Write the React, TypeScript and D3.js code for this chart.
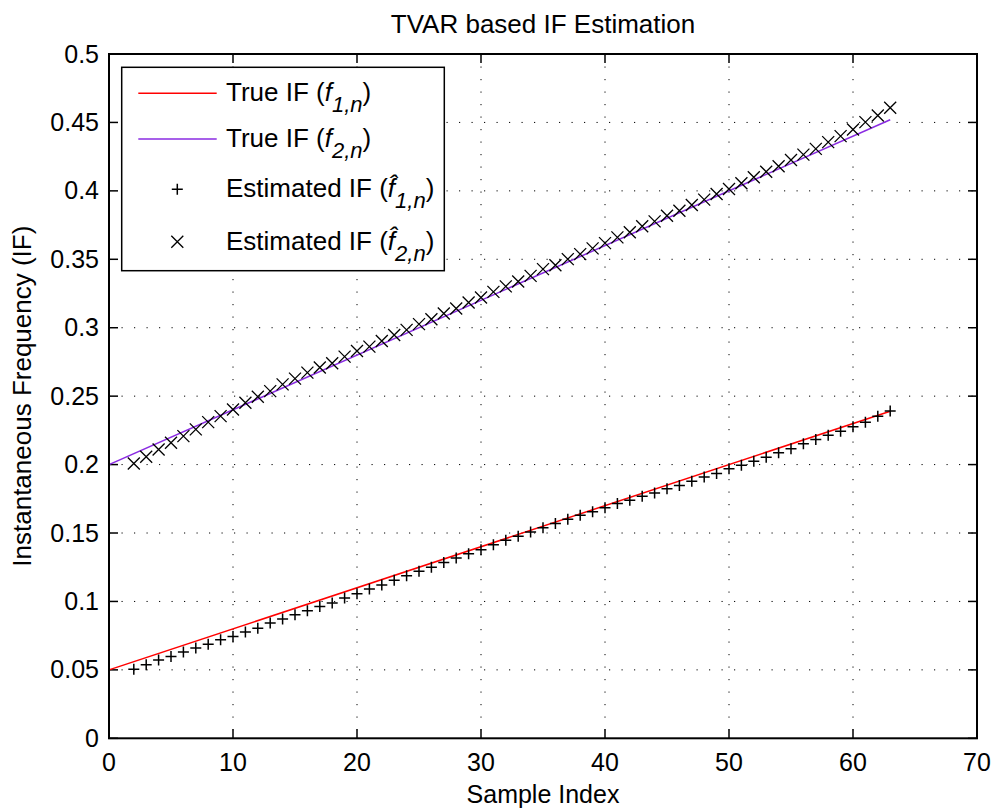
import React from "react";
import * as d3 from "d3";

const sampleIdx = [2,3,4,5,6,7,8,9,10,11,12,13,14,15,16,17,18,19,20,21,22,23,24,25,26,27,28,29,30,31,32,33,34,35,36,37,38,39,40,41,42,43,44,45,46,47,48,49,50,51,52,53,54,55,56,57,58,59,60,61,62,63];
const estF1 = [0.0505,0.0537,0.0573,0.0597,0.063,0.0659,0.0688,0.072,0.0744,0.0776,0.0805,0.0842,0.0871,0.0903,0.0932,0.0963,0.0988,0.1025,0.1056,0.109,0.112,0.1154,0.1188,0.122,0.1249,0.1285,0.1318,0.1349,0.1378,0.1415,0.1447,0.1476,0.1508,0.1538,0.157,0.16,0.163,0.1655,0.1684,0.1715,0.1739,0.1769,0.1793,0.1823,0.1847,0.1878,0.191,0.1935,0.1969,0.1996,0.2025,0.2054,0.2086,0.2116,0.2152,0.2184,0.2215,0.2244,0.2277,0.231,0.2354,0.2391];
const estF2 = [0.2008,0.2057,0.211,0.216,0.2208,0.2257,0.231,0.2354,0.2403,0.2452,0.2496,0.2537,0.2586,0.2628,0.2672,0.2709,0.274,0.2789,0.283,0.2862,0.2903,0.2947,0.2984,0.3026,0.3062,0.3104,0.314,0.3184,0.3221,0.3262,0.3302,0.3338,0.3379,0.3428,0.3457,0.3501,0.3538,0.358,0.3618,0.366,0.3697,0.3741,0.3777,0.3818,0.3855,0.3897,0.3936,0.3977,0.4014,0.4056,0.41,0.414,0.418,0.4226,0.4265,0.4307,0.4356,0.44,0.4448,0.4502,0.4551,0.4607];
const lineIdx = [0, 63];
const trueF1 = [0.05, 0.239];
const trueF2 = [0.2, 0.452];
const xTicks = [0,10,20,30,40,50,60,70];
const yTicks = [0,0.05,0.1,0.15,0.2,0.25,0.3,0.35,0.4,0.45,0.5];
const yTickLabels = ["0","0.05","0.1","0.15","0.2","0.25","0.3","0.35","0.4","0.45","0.5"];

const W = 994, H = 810;
const L = 109, R = 977, T = 54, B = 738.3;
const FONT = "'Liberation Sans', Arial, Helvetica, sans-serif";
const RED = "#ff0000";
const PURPLE = "#8a2be2";

export default function App() {
  const x = d3.scaleLinear().domain([0, 70]).range([L, R]);
  const y = d3.scaleLinear().domain([0, 0.5]).range([B, T]);
  const line = d3.line<[number, number]>().x(d => x(d[0])).y(d => y(d[1]));
  const l1 = line(lineIdx.map((v, i) => [v, trueF1[i]] as [number, number]))!;
  const l2 = line(lineIdx.map((v, i) => [v, trueF2[i]] as [number, number]))!;
  const tick = 9;
  const plus = (cx: number, cy: number, k: string) => (
    <path key={k} d={`M${cx - 5.5},${cy}H${cx + 5.5}M${cx},${cy - 5.5}V${cy + 5.5}`} stroke="#000" strokeWidth={1.5} fill="none" />
  );
  const cross = (cx: number, cy: number, k: string) => (
    <path key={k} d={`M${cx - 6},${cy - 6}L${cx + 6},${cy + 6}M${cx - 6},${cy + 6}L${cx + 6},${cy - 6}`} stroke="#000" strokeWidth={1.3} fill="none" />
  );
  const LG = { x0: 121.7, y0: 67.3, x1: 444.3, y1: 270.7 };
  const rows = [93.3, 139, 189.3, 241.7];
  const tx = 226;
  const fs = 25;
  const lfs = 26;
  const sub = 22;
  return (
    <svg width={W} height={H} style={{ position: "absolute", left: 0, top: 0, background: "#fff" }} fontFamily={FONT}>
      <rect x={0} y={0} width={W} height={H} fill="#fff" />
      {xTicks.slice(1, -1).map(t => (
        <line key={"gx" + t} x1={x(t)} x2={x(t)} y1={T} y2={B} stroke="#000" strokeWidth={1} strokeDasharray="1.2 11.3" />
      ))}
      {yTicks.slice(1, -1).map(t => (
        <line key={"gy" + t} x1={L} x2={R} y1={y(t)} y2={y(t)} stroke="#000" strokeWidth={1} strokeDasharray="1.2 11.3" />
      ))}
      {xTicks.map(t => (
        <g key={"tx" + t}>
          <line x1={x(t)} x2={x(t)} y1={B} y2={B - tick} stroke="#000" strokeWidth={1.5} />
          <line x1={x(t)} x2={x(t)} y1={T} y2={T + tick} stroke="#000" strokeWidth={1.5} />
          <text x={x(t)} y={771} textAnchor="middle" fontSize={fs}>{t}</text>
        </g>
      ))}
      {yTicks.map((t, i) => (
        <g key={"ty" + t}>
          <line x1={L} x2={L + tick} y1={y(t)} y2={y(t)} stroke="#000" strokeWidth={1.5} />
          <line x1={R} x2={R - tick} y1={y(t)} y2={y(t)} stroke="#000" strokeWidth={1.5} />
          <text x={99} y={y(t) + 8.5} textAnchor="end" fontSize={fs}>{yTickLabels[i]}</text>
        </g>
      ))}
      <path d={l1} stroke={RED} strokeWidth={1.5} fill="none" />
      <path d={l2} stroke={PURPLE} strokeWidth={1.5} fill="none" />
      {sampleIdx.map((s, i) => plus(x(s), y(estF1[i]), "p" + i))}
      {sampleIdx.map((s, i) => cross(x(s), y(estF2[i]), "c" + i))}
      <rect x={L} y={T} width={R - L} height={B - T} fill="none" stroke="#000" strokeWidth={2} />
      <rect x={LG.x0} y={LG.y0} width={LG.x1 - LG.x0} height={LG.y1 - LG.y0} fill="#fff" stroke="#000" strokeWidth={1.5} />
      <line x1={138.3} x2={216.7} y1={rows[0]} y2={rows[0]} stroke={RED} strokeWidth={1.5} />
      <line x1={138.3} x2={216.7} y1={rows[1]} y2={rows[1]} stroke={PURPLE} strokeWidth={1.5} />
      {plus(177.3, rows[2], "lp")}
      {cross(177.3, rows[3], "lc")}
      {[
        { pre: "True IF (", f: "f", s: "1,n" },
        { pre: "True IF (", f: "f", s: "2,n" },
        { pre: "Estimated IF (", f: "f\u0302", s: "1,n" },
        { pre: "Estimated IF (", f: "f\u0302", s: "2,n" },
      ].map((r, i) => (
        <text key={"lt" + i} x={tx} y={rows[i] + 8} fontSize={lfs}>
          {r.pre}
          <tspan fontStyle="italic">{r.f}</tspan>
          <tspan fontStyle="italic" fontSize={sub} dy={11}>{r.s}</tspan>
          <tspan dy={-11}>)</tspan>
        </text>
      ))}
      <text x={(L + R) / 2} y={33} textAnchor="middle" fontSize={26}>TVAR based IF Estimation</text>
      <text x={(L + R) / 2} y={803} textAnchor="middle" fontSize={fs}>Sample Index</text>
      <text transform={`translate(31,${(T + B) / 2}) rotate(-90)`} textAnchor="middle" fontSize={26}>Instantaneous Frequency (IF)</text>
    </svg>
  );
}
